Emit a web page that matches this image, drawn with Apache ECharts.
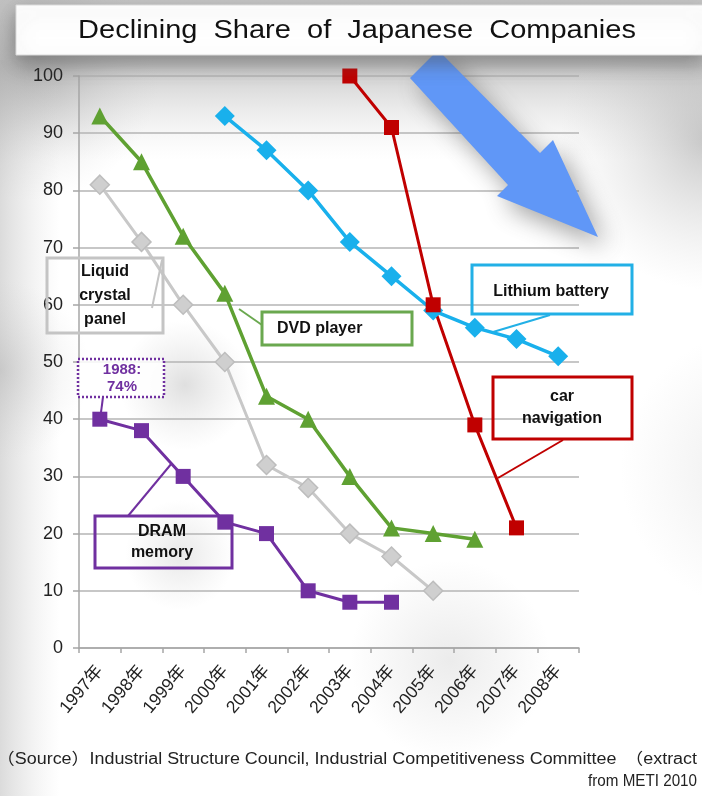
<!DOCTYPE html>
<html>
<head>
<meta charset="utf-8">
<script src="https://cdn.jsdelivr.net/npm/echarts@6/dist/echarts.min.js"></script>
<style>
  html, body { margin: 0; padding: 0; background: #ffffff; }
  #chart { width: 702px; height: 796px; }
</style>
</head>
<body>
<div id="chart"></div>
<script>
// Share of Japanese companies (%) by year
const years = ['1997年', '1998年', '1999年', '2000年', '2001年', '2002年',
               '2003年', '2004年', '2005年', '2006年', '2007年', '2008年'];
const dramMemory     = [40, 38, 30, 22, 20, 10, 8, 8, null, null, null, null];
const liquidCrystal  = [81, 71, 60, 50, 32, 28, 20, 16, 10, null, null, null];
const dvdPlayer      = [93, 85, 72, 62, 44, 40, 30, 21, 20, 19, null, null];
const lithiumBattery = [null, null, null, 93, 87, 80, 71, 65, 59, 56, 54, 51];
const carNavigation  = [null, null, null, null, null, null, 100, 91, 60, 39, 21, null];

const yMin = 0, yMax = 100, yStep = 10;

const FONT = "'Liberation Sans', 'Noto Sans CJK JP', sans-serif";

const chart = echarts.init(document.getElementById('chart'), null, { renderer: 'canvas' });

function seriesOf(name, data, color, symbol, size, width, extra) {
  return Object.assign({
    name: name,
    type: 'line',
    data: data,
    symbol: symbol,
    symbolSize: size,
    connectNulls: false,
    lineStyle: { color: color, width: width },
    itemStyle: { color: color },
    emphasis: { disabled: true },
    animation: false
  }, extra || {});
}

function radial(cx, cy, r, color) {
  return new echarts.graphic.RadialGradient(cx, cy, r, [
    { offset: 0, color: color },
    { offset: 1, color: 'rgba(200,200,200,0)' }]);
}

// Soft grey shading around the slide
const backdrop = [
  { type: 'rect', z: -20, shape: { x: 0, y: 0, width: 702, height: 796 }, style: { fill: '#ffffff' } },
  // band under the title
  { type: 'rect', z: -19, shape: { x: 0, y: 0, width: 702, height: 160 },
    style: { fill: new echarts.graphic.LinearGradient(0, 0, 0, 1, [
      { offset: 0, color: 'rgba(175,175,175,0.7)' },
      { offset: 0.4, color: 'rgba(165,165,165,0.6)' },
      { offset: 1, color: 'rgba(220,220,220,0)' }]) } },
  // darker corner top-left
  { type: 'rect', z: -19, shape: { x: -120, y: -60, width: 300, height: 260 },
    style: { fill: radial(0.5, 0.5, 0.5, 'rgba(140,140,140,0.5)') } },
  // left edge
  { type: 'rect', z: -19, shape: { x: 0, y: 60, width: 60, height: 736 },
    style: { fill: new echarts.graphic.LinearGradient(0, 0, 1, 0, [
      { offset: 0, color: 'rgba(175,175,175,0.45)' },
      { offset: 1, color: 'rgba(210,210,210,0)' }]) } },
  { type: 'rect', z: -19, shape: { x: -90, y: 280, width: 180, height: 180 },
    style: { fill: radial(0.5, 0.5, 0.5, 'rgba(165,165,165,0.35)') } },
  // right side, around the arrow
  { type: 'rect', z: -19, shape: { x: 560, y: 0, width: 300, height: 400 },
    style: { fill: radial(0.5, 0.35, 0.5, 'rgba(155,155,155,0.55)') } },
  { type: 'rect', z: -19, shape: { x: 620, y: 330, width: 280, height: 280 },
    style: { fill: radial(0.5, 0.5, 0.5, 'rgba(190,190,190,0.3)') } },
  // soft blobs inside the plot
  { type: 'rect', z: -18, shape: { x: 110, y: 320, width: 150, height: 130 },
    style: { fill: radial(0.5, 0.5, 0.5, 'rgba(175,175,175,0.4)') } },
  { type: 'rect', z: -18, shape: { x: 80, y: 500, width: 200, height: 110 },
    style: { fill: radial(0.5, 0.5, 0.5, 'rgba(190,190,190,0.35)') } },
  { type: 'rect', z: -18, shape: { x: 300, y: 560, width: 300, height: 200 },
    style: { fill: radial(0.5, 0.5, 0.5, 'rgba(200,200,200,0.35)') } }
];

// Big blue "declining" arrow
const arrow = {
  type: 'polygon', z: 40,
  shape: { points: [[410, 78], [438, 50], [540, 153], [553, 140], [598, 237], [497, 196], [508, 185]] },
  style: { fill: '#6097f7', shadowBlur: 24, shadowOffsetX: 8, shadowOffsetY: 10, shadowColor: 'rgba(70,70,70,0.5)' }
};

const titleBox = [
  { type: 'rect', z: 50, shape: { x: 16, y: 5, width: 690, height: 50 },
    style: { fill: '#ffffff', stroke: '#dadada', lineWidth: 1,
             shadowBlur: 20, shadowOffsetY: 8, shadowColor: 'rgba(80,80,80,0.55)' } },
  { type: 'text', z: 51, x: 357, y: 31, scaleX: 1.16, scaleY: 1,
    style: { x: 0, y: 0, text: 'Declining  Share  of  Japanese  Companies',
      fill: '#111111', font: "25px " + FONT, textAlign: 'center', textVerticalAlign: 'middle' } }
];

function box(x, y, w, h, color, dash, fill) {
  return { type: 'rect', z: 60, shape: { x: x, y: y, width: w, height: h },
           style: { fill: fill || 'rgba(0,0,0,0)', stroke: color, lineWidth: dash ? 2.5 : 3, lineDash: dash || null } };
}
function leader(x1, y1, x2, y2, color) {
  return { type: 'line', z: 59, shape: { x1: x1, y1: y1, x2: x2, y2: y2 },
           style: { stroke: color, lineWidth: 2 } };
}
function label(x, y, text, color, size, lh, align) {
  return { type: 'text', z: 61,
           style: { x: x, y: y, text: text, fill: color || '#111111', font: 'bold ' + (size || 16) + 'px ' + FONT,
                    textAlign: align || 'center', textVerticalAlign: 'middle', lineHeight: lh || 20 } };
}

const callouts = [
  // Liquid crystal panel
  leader(152, 308, 162, 260, '#c4c4c4'),
  box(47, 258, 116, 75, '#c4c4c4'),
  label(105, 296, 'Liquid\ncrystal\npanel', '#111', 16, 24),
  // DVD player
  leader(239, 309, 262, 325, '#6aa84f'),
  box(262, 312, 150, 33, '#6aa84f'),
  label(277, 329, 'DVD player', '#111', 16, 20, 'left'),
  // Lithium battery
  leader(550, 315, 493, 332, '#22b0e6'),
  box(472, 265, 160, 49, '#22b0e6'),
  label(551, 292, 'Lithium battery', '#111', 16),
  // Car navigation
  leader(563, 440, 498, 478, '#c00000'),
  box(493, 377, 139, 62, '#c00000'),
  label(562, 408, 'car\nnavigation', '#111', 16, 22),
  // DRAM memory
  leader(128, 516, 172, 463, '#7030a0'),
  box(95, 516, 137, 52, '#7030a0'),
  label(162, 542, 'DRAM\nmemory', '#111', 16, 21),
  // 1988 share note
  leader(103, 397, 100, 420, '#7030a0'),
  box(78, 359, 86, 38, '#7030a0', [2, 2], 'rgba(255,255,255,0.85)'),
  label(122, 378, '1988:\n74%', '#7030a0', 15, 17)
];

const footer = [
  { type: 'text', z: 60, x: 697, y: 760, scaleX: 1.12, scaleY: 1,
    style: { x: 0, y: 0, text: '（Source）Industrial Structure Council, Industrial Competitiveness Committee　（extract',
      fill: '#222222', font: '16px ' + FONT, textAlign: 'right', textVerticalAlign: 'middle' } },
  { type: 'text', z: 60, x: 697, y: 782, scaleX: 0.95, scaleY: 1,
    style: { x: 0, y: 0, text: 'from METI 2010',
      fill: '#222222', font: '16px ' + FONT, textAlign: 'right', textVerticalAlign: 'middle' } }
];

const option = {
  backgroundColor: '#ffffff',
  animation: false,
  grid: { left: 79, right: 123, top: 76, bottom: 148, containLabel: false },
  xAxis: {
    type: 'category',
    data: years,
    boundaryGap: true,
    axisLine: { lineStyle: { color: '#a6a6a6', width: 1.5 } },
    axisTick: { show: true, alignWithLabel: false, length: 5, lineStyle: { color: '#a6a6a6', width: 1.5 } },
    axisLabel: { rotate: 50, fontSize: 17.5, color: '#222222', fontFamily: FONT, margin: 20, interval: 0 },
    splitLine: { show: false }
  },
  yAxis: {
    type: 'value',
    min: yMin, max: yMax, interval: yStep,
    axisLine: { show: true, lineStyle: { color: '#a6a6a6', width: 1.5 } },
    axisTick: { show: true, length: 6, lineStyle: { color: '#a6a6a6', width: 1.5 } },
    axisLabel: { fontSize: 18, color: '#222222', fontFamily: FONT, margin: 16 },
    splitLine: { show: true, lineStyle: { color: '#b4b4b4', width: 1.5 } }
  },
  series: [
    seriesOf('Liquid crystal panel', liquidCrystal, '#c8c8c8', 'diamond', 19, 3,
             { itemStyle: { color: '#cfcfcf', borderColor: '#bdbdbd', borderWidth: 1.5 } }),
    seriesOf('DRAM memory', dramMemory, '#7030a0', 'rect', 15, 3),
    seriesOf('DVD player', dvdPlayer, '#5fa132', 'triangle', 17, 3.5),
    seriesOf('Lithium battery', lithiumBattery, '#19b0ec', 'diamond', 20, 3.5),
    seriesOf('car navigation', carNavigation, '#c00000', 'rect', 15, 3)
  ],
  graphic: { elements: [].concat(backdrop, [arrow], titleBox, callouts, footer) }
};

chart.setOption(option);
</script>
</body>
</html>
